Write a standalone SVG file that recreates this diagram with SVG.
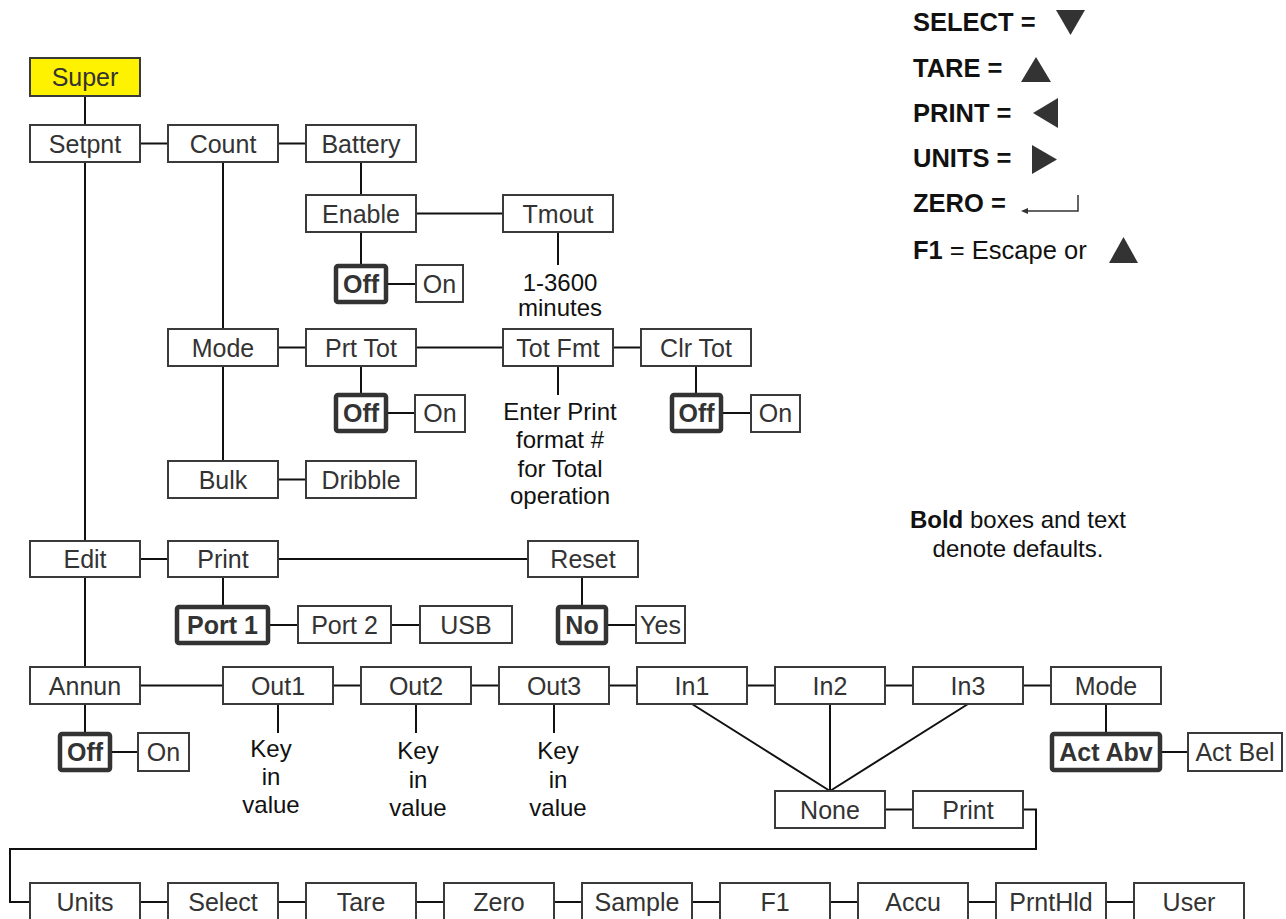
<svg xmlns="http://www.w3.org/2000/svg" width="1286" height="919" viewBox="0 0 1286 919">
<style>
.box{fill:#fff;stroke:#3a3a3a;stroke-width:2}
.bb{fill:#fff;stroke:#333;stroke-width:4.5}
.sup{fill:#FFF200;stroke:#3a3a3a;stroke-width:2}
.t{font-family:"Liberation Sans",Arial,sans-serif;font-size:25px;fill:#333;text-anchor:middle}
.b{font-weight:bold}
.n{font-family:"Liberation Sans",Arial,sans-serif;font-size:24px;fill:#111;text-anchor:middle}
.lg{font-family:"Liberation Sans",Arial,sans-serif;font-size:25.5px;fill:#111}
.nt{font-family:"Liberation Sans",Arial,sans-serif;font-size:24px;fill:#111;text-anchor:middle}
.tri{fill:#333}
.c{fill:none;stroke:#111;stroke-width:2}
</style>
<g id="connectors" class="c">
<path d="M85 96V125M140 143.5H168M278 143.5H306M85 162V541M85 577V667M85 704V732M223 162V329M223 366V461M361 162V195M361 232V264M388 284H416M416 213.5H503M558 232V265"/>
<path d="M278 347.5H306M416 347.5H503M613 347.5H641M361 366V393M388 413H415M558 366V395M696 366V393M723 413H751M278 479.5H306"/>
<path d="M140 559H168M278 559H528M223 577V605M270 625H298M391 625H420M582 577V605M608 625H636"/>
<path d="M140 685.5H223M332 685.5H361M470 685.5H499M608 685.5H637M747 685.5H775M884 685.5H913M1022 685.5H1051M278 704V733M416 704V733M554 704V733M112 752H138M1106 704V732M1162 752H1188"/>
<path d="M692 704L830 791M830 704V791M968 704L830 791M884 809.5H913M1023 809.5H1036V849H10V902H30"/>
<path d="M140 902H168M278 902H306M416 902H444M554 902H582M692 902H720M830 902H858M968 902H996M1106 902H1134"/>
</g>
<g id="super"><rect class="sup" x="30" y="58" width="110" height="38"/><text class="t" x="85" y="86">Super</text></g>
<g id="setpnt"><rect class="box" x="30" y="125" width="110" height="37"/><text class="t" x="85" y="152.5">Setpnt</text></g>
<g id="count"><rect class="box" x="168" y="125" width="110" height="37"/><text class="t" x="223" y="152.5">Count</text></g>
<g id="battery"><rect class="box" x="306" y="125" width="110" height="37"/><text class="t" x="361" y="152.5">Battery</text></g>
<g id="enable"><rect class="box" x="306" y="195" width="110" height="37"/><text class="t" x="361" y="222.5">Enable</text></g>
<g id="tmout"><rect class="box" x="503" y="195" width="110" height="37"/><text class="t" x="558" y="222.5">Tmout</text></g>
<g id="tmout-range"><text class="n" x="560" y="291">1-3600</text><text class="n" x="560" y="316">minutes</text></g>
<g id="enable-off"><rect class="bb" x="336" y="266" width="50" height="36" rx="2"/><text class="t b" x="361" y="293">Off</text></g>
<g id="enable-on"><rect class="box" x="416" y="265" width="47" height="37"/><text class="t" x="439.5" y="293">On</text></g>
<g id="mode"><rect class="box" x="168" y="329" width="110" height="37"/><text class="t" x="223" y="356.5">Mode</text></g>
<g id="prttot"><rect class="box" x="306" y="329" width="110" height="37"/><text class="t" x="361" y="356.5">Prt Tot</text></g>
<g id="totfmt"><rect class="box" x="503" y="329" width="110" height="37"/><text class="t" x="558" y="356.5">Tot Fmt</text></g>
<g id="clrtot"><rect class="box" x="641" y="329" width="110" height="37"/><text class="t" x="696" y="356.5">Clr Tot</text></g>
<g id="prttot-off"><rect class="bb" x="336" y="395" width="50" height="36" rx="2"/><text class="t b" x="361" y="422">Off</text></g>
<g id="prttot-on"><rect class="box" x="415" y="395" width="50" height="37"/><text class="t" x="440" y="422">On</text></g>
<g id="totfmt-note"><text class="n" x="560" y="420">Enter Print</text><text class="n" x="560" y="448">format #</text><text class="n" x="560" y="477">for Total</text><text class="n" x="560" y="504">operation</text></g>
<g id="clrtot-off"><rect class="bb" x="672" y="395" width="49" height="36" rx="2"/><text class="t b" x="696.5" y="422">Off</text></g>
<g id="clrtot-on"><rect class="box" x="751" y="395" width="49" height="37"/><text class="t" x="775.5" y="422">On</text></g>
<g id="bulk"><rect class="box" x="168" y="461" width="110" height="37"/><text class="t" x="223" y="488.5">Bulk</text></g>
<g id="dribble"><rect class="box" x="306" y="461" width="110" height="37"/><text class="t" x="361" y="488.5">Dribble</text></g>
<g id="edit"><rect class="box" x="30" y="541" width="110" height="36"/><text class="t" x="85" y="568">Edit</text></g>
<g id="print"><rect class="box" x="168" y="541" width="110" height="36"/><text class="t" x="223" y="568">Print</text></g>
<g id="reset"><rect class="box" x="528" y="541" width="110" height="36"/><text class="t" x="583" y="568">Reset</text></g>
<g id="port1"><rect class="bb" x="177" y="607" width="91" height="36" rx="2"/><text class="t b" x="222.5" y="634">Port 1</text></g>
<g id="port2"><rect class="box" x="298" y="606" width="93" height="37"/><text class="t" x="344.5" y="634">Port 2</text></g>
<g id="usb"><rect class="box" x="420" y="606" width="92" height="37"/><text class="t" x="466" y="634">USB</text></g>
<g id="no"><rect class="bb" x="558" y="607" width="48" height="36" rx="2"/><text class="t b" x="582" y="634">No</text></g>
<g id="yes"><rect class="box" x="636" y="606" width="49" height="37"/><text class="t" x="660.5" y="634">Yes</text></g>
<g id="annun"><rect class="box" x="30" y="667" width="110" height="37"/><text class="t" x="85" y="694.5">Annun</text></g>
<g id="out1"><rect class="box" x="223" y="667" width="110" height="37"/><text class="t" x="278" y="694.5">Out1</text></g>
<g id="out2"><rect class="box" x="361" y="667" width="110" height="37"/><text class="t" x="416" y="694.5">Out2</text></g>
<g id="out3"><rect class="box" x="499" y="667" width="110" height="37"/><text class="t" x="554" y="694.5">Out3</text></g>
<g id="in1"><rect class="box" x="637" y="667" width="110" height="37"/><text class="t" x="692" y="694.5">In1</text></g>
<g id="in2"><rect class="box" x="775" y="667" width="110" height="37"/><text class="t" x="830" y="694.5">In2</text></g>
<g id="in3"><rect class="box" x="913" y="667" width="110" height="37"/><text class="t" x="968" y="694.5">In3</text></g>
<g id="mode2"><rect class="box" x="1051" y="667" width="110" height="37"/><text class="t" x="1106" y="694.5">Mode</text></g>
<g id="annun-off"><rect class="bb" x="60" y="734" width="50" height="36" rx="2"/><text class="t b" x="85" y="761">Off</text></g>
<g id="annun-on"><rect class="box" x="138" y="733" width="51" height="38"/><text class="t" x="163.5" y="761">On</text></g>
<g id="out1-note"><text class="n" x="271" y="757">Key</text><text class="n" x="271" y="785">in</text><text class="n" x="271" y="813">value</text></g>
<g id="out2-note"><text class="n" x="418" y="759">Key</text><text class="n" x="418" y="788">in</text><text class="n" x="418" y="816">value</text></g>
<g id="out3-note"><text class="n" x="558" y="759">Key</text><text class="n" x="558" y="788">in</text><text class="n" x="558" y="816">value</text></g>
<g id="actabv"><rect class="bb" x="1052" y="734" width="108" height="36" rx="2"/><text class="t b" x="1106" y="761">Act Abv</text></g>
<g id="actbel"><rect class="box" x="1188" y="733" width="94" height="38"/><text class="t" x="1235" y="761">Act Bel</text></g>
<g id="none"><rect class="box" x="775" y="791" width="110" height="37"/><text class="t" x="830" y="818.5">None</text></g>
<g id="print2"><rect class="box" x="913" y="791" width="110" height="37"/><text class="t" x="968" y="818.5">Print</text></g>
<g id="units"><rect class="box" x="30" y="883" width="110" height="40"/><text class="t" x="85" y="911">Units</text></g>
<g id="select"><rect class="box" x="168" y="883" width="110" height="40"/><text class="t" x="223" y="911">Select</text></g>
<g id="tare"><rect class="box" x="306" y="883" width="110" height="40"/><text class="t" x="361" y="911">Tare</text></g>
<g id="zero"><rect class="box" x="444" y="883" width="110" height="40"/><text class="t" x="499" y="911">Zero</text></g>
<g id="sample"><rect class="box" x="582" y="883" width="110" height="40"/><text class="t" x="637" y="911">Sample</text></g>
<g id="f1"><rect class="box" x="720" y="883" width="110" height="40"/><text class="t" x="775" y="911">F1</text></g>
<g id="accu"><rect class="box" x="858" y="883" width="110" height="40"/><text class="t" x="913" y="911">Accu</text></g>
<g id="prnthld"><rect class="box" x="996" y="883" width="110" height="40"/><text class="t" x="1051" y="911">PrntHld</text></g>
<g id="user"><rect class="box" x="1134" y="883" width="110" height="40"/><text class="t" x="1189" y="911">User</text></g>
<g id="legend">
<text class="lg b" x="913" y="30.5">SELECT =</text>
<polygon class="tri" points="1056,10 1085,10 1070.5,35"/>
<text class="lg b" x="913" y="77">TARE =</text>
<polygon class="tri" points="1021,82 1051,82 1036,57"/>
<text class="lg b" x="913" y="122">PRINT =</text>
<polygon class="tri" points="1058,98 1058,128 1033,113"/>
<text class="lg b" x="913" y="167">UNITS =</text>
<polygon class="tri" points="1032,145 1032,174 1057,159.5"/>
<text class="lg b" x="913" y="212">ZERO =</text>
<path d="M1078 195V211H1026" fill="none" stroke="#333" stroke-width="1.5"/>
<polygon class="tri" points="1021,211 1028,208 1028,214"/>
<text class="lg" x="913" y="259"><tspan class="b">F1</tspan> = Escape or</text>
<polygon class="tri" points="1109,263 1138,263 1123.5,237"/>
</g>
<g id="note">
<text class="nt" x="1018" y="528"><tspan class="b">Bold</tspan> boxes and text</text>
<text class="nt" x="1018" y="557">denote defaults.</text>
</g>
</svg>
